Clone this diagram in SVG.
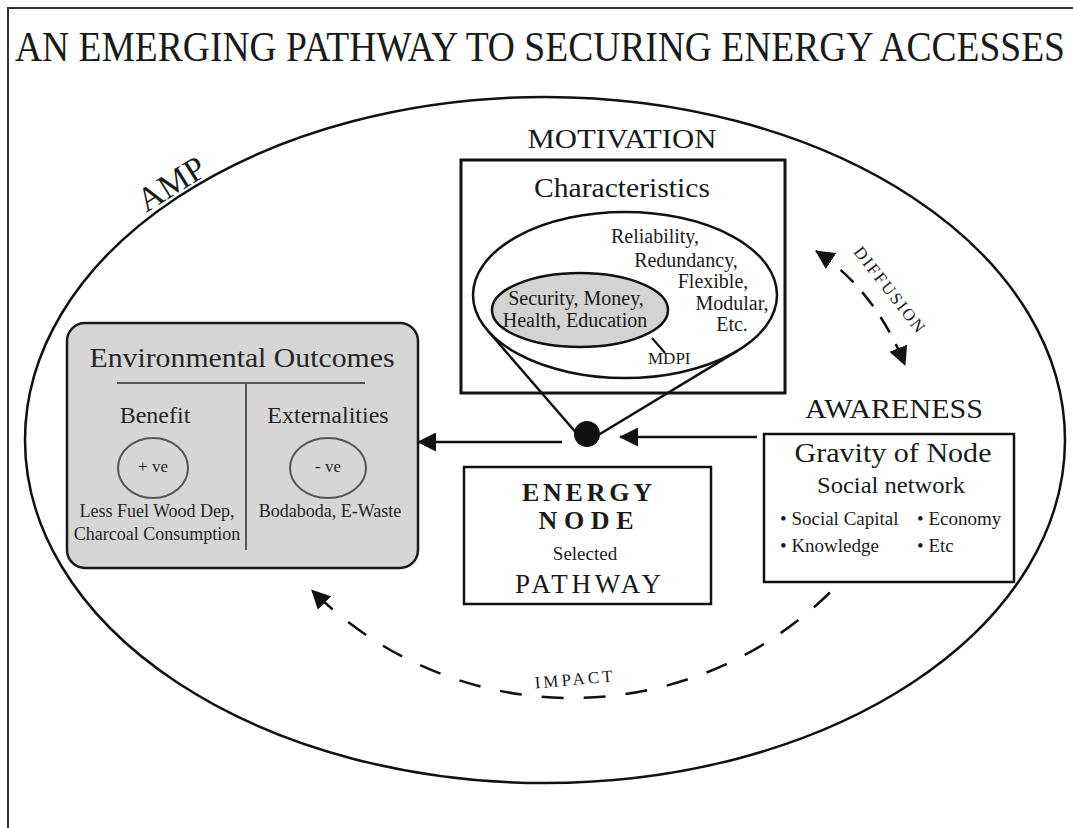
<svg xmlns="http://www.w3.org/2000/svg" width="1073" height="828" viewBox="0 0 1073 828">
  <defs>
    <style>
      text { font-family: "Liberation Serif", "Times New Roman", serif; fill: #1a1a1a; }
      .c { text-anchor: middle; }
      .stroke { fill: none; stroke: #111; stroke-width: 2.5; }
      .divider { fill: none; stroke: #555; stroke-width: 2; }
      .dashed { fill: none; stroke: #111; stroke-width: 2.5; }
      .env text { fill: #262626; }
    </style>
    <marker id="head" viewBox="0 0 20 20" refX="19" refY="10" markerWidth="19" markerHeight="19" markerUnits="userSpaceOnUse" orient="auto-start-reverse">
      <path d="M0,0 L20,10 L0,20 z" fill="#111"/>
    </marker>
  </defs>

  <rect width="1073" height="828" fill="#fff"/>

  <!-- page frame (top and left rules) -->
  <g id="frame">
    <path d="M8,828 V8 H1073" fill="none" stroke="#333" stroke-width="2"/>
  </g>

  <!-- heading, set narrow and tall -->
  <g id="title">
    <text transform="translate(15,61) scale(1,1.14)" x="0" y="0" font-size="37" textLength="1050" lengthAdjust="spacingAndGlyphs">AN EMERGING PATHWAY TO SECURING ENERGY ACCESSES</text>
  </g>

  <!-- outer AMP boundary -->
  <g id="amp">
    <ellipse cx="545" cy="440" rx="520" ry="343" class="stroke"/>
    <text transform="translate(146,213) rotate(-32)" font-size="34">AMP</text>
  </g>

  <!-- Motivation / characteristics -->
  <g id="motivation">
    <text x="622" y="148" class="c" font-size="27" textLength="189" lengthAdjust="spacingAndGlyphs">MOTIVATION</text>
    <rect x="461" y="160" width="324" height="233" fill="#fff" stroke="#111" stroke-width="3"/>
    <text x="622" y="197" class="c" font-size="28" textLength="176" lengthAdjust="spacingAndGlyphs">Characteristics</text>
    <ellipse cx="625" cy="295" rx="152" ry="83" fill="#fff" class="stroke"/>
    <text x="655" y="243" class="c" font-size="20">Reliability,</text>
    <text x="686" y="267" class="c" font-size="20">Redundancy,</text>
    <text x="713" y="288" class="c" font-size="20">Flexible,</text>
    <text x="732" y="310" class="c" font-size="20">Modular,</text>
    <text x="732" y="331" class="c" font-size="20">Etc.</text>
    <ellipse cx="580" cy="310" rx="88" ry="37" fill="#d3d3d3" stroke="#111" stroke-width="2.5"/>
    <text x="576" y="305" class="c" font-size="20">Security, Money,</text>
    <text x="575" y="327" class="c" font-size="20">Health, Education</text>
    <line x1="652" y1="338" x2="665" y2="353" stroke="#111" stroke-width="2"/>
    <text x="648" y="364" font-size="17">MDPI</text>
  </g>

  <!-- Environmental outcomes -->
  <g id="environmental-outcomes" class="env">
    <rect x="67" y="323" width="351" height="245" rx="18" fill="#d6d6d6" stroke="#1a1a1a" stroke-width="2.5"/>
    <text x="242" y="367" class="c" font-size="28" textLength="305" lengthAdjust="spacingAndGlyphs">Environmental Outcomes</text>
    <line x1="117" y1="383" x2="365" y2="383" class="divider"/>
    <line x1="246" y1="383" x2="246" y2="550" class="divider"/>
    <text x="155" y="423" class="c" font-size="24">Benefit</text>
    <text x="328" y="423" class="c" font-size="24">Externalities</text>
    <ellipse cx="153" cy="468" rx="35" ry="30" class="divider"/>
    <ellipse cx="328" cy="468" rx="38" ry="30" class="divider"/>
    <text x="153" y="472" class="c" font-size="17">+ ve</text>
    <text x="328" y="472" class="c" font-size="17">- ve</text>
    <text x="157" y="517" class="c" font-size="18">Less Fuel Wood Dep,</text>
    <text x="157" y="540" class="c" font-size="18">Charcoal Consumption</text>
    <text x="330" y="517" class="c" font-size="18">Bodaboda, E-Waste</text>
  </g>

  <!-- Energy node -->
  <g id="energy-node">
    <rect x="464" y="467" width="247" height="137" fill="#fff" stroke="#111" stroke-width="2.5"/>
    <text x="587" y="501" class="c" font-size="26" font-weight="bold" textLength="130" lengthAdjust="spacing">ENERGY</text>
    <text x="586" y="529" class="c" font-size="26" font-weight="bold" textLength="95" lengthAdjust="spacing">NODE</text>
    <text x="585" y="560" class="c" font-size="19">Selected</text>
    <text x="588" y="593" class="c" font-size="27" textLength="146" lengthAdjust="spacing">PATHWAY</text>
  </g>

  <!-- Awareness / gravity of node -->
  <g id="awareness">
    <text x="894" y="418" class="c" font-size="27" textLength="178" lengthAdjust="spacingAndGlyphs">AWARENESS</text>
    <rect x="764" y="434" width="250" height="148" fill="#fff" stroke="#111" stroke-width="2.5"/>
    <text x="893" y="462" class="c" font-size="28" textLength="197" lengthAdjust="spacingAndGlyphs">Gravity of Node</text>
    <text x="891" y="493" class="c" font-size="23" textLength="148" lengthAdjust="spacingAndGlyphs">Social network</text>
    <text x="780" y="525" font-size="19">• Social Capital</text>
    <text x="917" y="525" font-size="19">• Economy</text>
    <text x="780" y="552" font-size="19">• Knowledge</text>
    <text x="917" y="552" font-size="19">• Etc</text>
  </g>

  <!-- connectors -->
  <g id="connectors">
    <!-- cone from the node point up to the characteristics ellipse -->
    <line x1="585" y1="443" x2="487.6" y2="330.5" class="stroke"/>
    <line x1="585" y1="443" x2="737.8" y2="350.6" class="stroke"/>
    <circle cx="587" cy="434" r="13" fill="#111"/>
    <line x1="562" y1="442" x2="418" y2="442" class="stroke" marker-end="url(#head)"/>
    <line x1="757" y1="437" x2="620" y2="437" class="stroke" marker-end="url(#head)"/>
    <!-- diffusion: two-way dashed -->
    <path d="M816,251 Q875,290 905,365" class="dashed" stroke-dasharray="18 13" marker-start="url(#head)" marker-end="url(#head)"/>
    <text transform="translate(885,293) rotate(52)" class="c" font-size="17" textLength="104" lengthAdjust="spacing">DIFFUSION</text>
    <!-- impact: dashed return arc -->
    <path d="M829.9,592.5 A368,368 0 0 1 311.8,590.2" class="dashed" stroke-dasharray="22 20" marker-end="url(#head)"/>
    <text transform="translate(574,685) rotate(-5)" class="c" font-size="17" textLength="78" lengthAdjust="spacing">IMPACT</text>
  </g>
</svg>
